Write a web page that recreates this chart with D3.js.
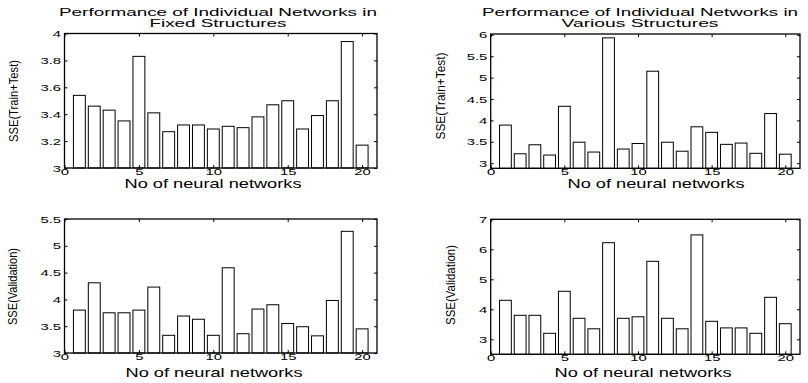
<!DOCTYPE html>
<html>
<head>
<meta charset="utf-8">
<script src="https://cdn.jsdelivr.net/npm/d3@7"></script>
<style>
body { margin: 0; background: #fff; }
text { font-family: "Liberation Sans", Arial, sans-serif; fill: #000; }
</style>
</head>
<body>
<script>
// network index on the x axis
var networks = [1, 2, 3, 4, 5, 6, 7, 8, 9, 10, 11, 12, 13, 14, 15, 16, 17, 18, 19, 20];

// SSE values
var trainTestFixed = [3.54, 3.46, 3.43, 3.35, 3.83, 3.41, 3.27, 3.32, 3.32, 3.29, 3.31, 3.30, 3.38, 3.47, 3.50, 3.29, 3.39, 3.50, 3.94, 3.17];
var trainTestVarious = [3.89, 3.22, 3.43, 3.19, 4.33, 3.49, 3.26, 5.93, 3.33, 3.46, 5.15, 3.49, 3.28, 3.85, 3.72, 3.44, 3.47, 3.23, 4.16, 3.21];
var validationFixed = [3.80, 4.31, 3.75, 3.75, 3.80, 4.23, 3.33, 3.69, 3.63, 3.33, 4.59, 3.36, 3.82, 3.90, 3.55, 3.49, 3.32, 3.98, 5.27, 3.45];
var validationVarious = [4.30, 3.80, 3.80, 3.20, 4.60, 3.70, 3.35, 6.22, 3.70, 3.75, 5.60, 3.70, 3.35, 6.48, 3.60, 3.38, 3.38, 3.20, 4.40, 3.52];

var xTicks = [0, 5, 10, 15, 20];
var yTicksTTFixed = [3, 3.2, 3.4, 3.6, 3.8, 4];
var yTicksTTVarious = [3, 3.5, 4, 4.5, 5, 5.5, 6];
var yTicksValFixed = [3, 3.5, 4, 4.5, 5, 5.5];
var yTicksValVarious = [3, 4, 5, 6, 7];

var titleFixed = ["Performance of Individual Networks in", "Fixed Structures"];
var titleVarious = ["Performance of Individual Networks in", "Various Structures"];
var xLabel = "No of neural networks";
var yLabelTT = "SSE(Train+Test)";
var yLabelVal = "SSE(Validation)";

var svg = d3.select("body").append("svg")
  .attr("width", 808)
  .attr("height", 383);

// layout of the four axes boxes (pixels)
var panels = [
  {values: trainTestFixed, yDomain: [3, 4], yTicks: yTicksTTFixed,
   left: 64.5, right: 377, top: 33.5, bottom: 168,
   title: titleFixed, titleX: 218, titleLen: [318, 137],
   yLabel: yLabelTT, yLabelX: 13.5, yLabelY: 101, yLabelLen: 82,
   xLabelX: 213, xLabelY: 188},
  {values: trainTestVarious, yDomain: [2.88, 6.02], yTicks: yTicksTTVarious,
   left: 490.7, right: 800, top: 34, bottom: 168.3,
   title: titleVarious, titleX: 640, titleLen: [316, 157],
   yLabel: yLabelTT, yLabelX: 441, yLabelY: 96, yLabelLen: 87,
   xLabelX: 656, xLabelY: 188},
  {values: validationFixed, yDomain: [3, 5.5], yTicks: yTicksValFixed,
   left: 64.5, right: 377, top: 219, bottom: 353,
   title: null,
   yLabel: yLabelVal, yLabelX: 13, yLabelY: 286.5, yLabelLen: 77,
   xLabelX: 214, xLabelY: 377},
  {values: validationVarious, yDomain: [2.5, 7], yTicks: yTicksValVarious,
   left: 490.7, right: 800, top: 219.3, bottom: 354.3,
   title: null,
   yLabel: yLabelVal, yLabelX: 451, yLabelY: 285, yLabelLen: 80,
   xLabelX: 643, xLabelY: 377}
];

panels.forEach(function(p) {
  var x = d3.scaleLinear().domain([0, 21]).range([p.left, p.right]);
  var y = d3.scaleLinear().domain(p.yDomain).range([p.bottom, p.top]);
  var g = svg.append("g");

  // bars, matlab style width 0.8
  g.selectAll("rect.bar")
    .data(p.values)
    .enter().append("rect")
    .attr("class", "bar")
    .attr("x", function(d, i) { return x(networks[i] - 0.4); })
    .attr("width", x(0.8) - x(0))
    .attr("y", function(d) { return y(d); })
    .attr("height", function(d) { return y(p.yDomain[0]) - y(d); })
    .attr("fill", "#fff")
    .attr("stroke", "#000")
    .attr("stroke-width", 1);

  // ticks pointing inwards on all four sides
  var bottomAxis = g.append("g")
    .attr("transform", "translate(0," + p.bottom + ")")
    .call(d3.axisBottom(x).tickValues(xTicks).tickSizeInner(-3).tickSizeOuter(0));
  var topAxis = g.append("g")
    .attr("transform", "translate(0," + p.top + ")")
    .call(d3.axisTop(x).tickValues(xTicks).tickSizeInner(-3).tickSizeOuter(0).tickFormat(""));
  var leftAxis = g.append("g")
    .attr("transform", "translate(" + p.left + ",0)")
    .call(d3.axisLeft(y).tickValues(p.yTicks).tickSizeInner(-3).tickSizeOuter(0)
      .tickFormat(function(d) { return String(d); }));
  var rightAxis = g.append("g")
    .attr("transform", "translate(" + p.right + ",0)")
    .call(d3.axisRight(y).tickValues(p.yTicks).tickSizeInner(-3).tickSizeOuter(0).tickFormat(""));

  [bottomAxis, topAxis, leftAxis, rightAxis].forEach(function(a) {
    a.select(".domain").remove();
    a.selectAll("line").attr("stroke", "#000");
    a.attr("font-family", null).attr("font-size", null);
  });

  // stretched tick labels
  bottomAxis.selectAll("text")
    .attr("font-size", 11)
    .attr("transform", "scale(1.35,0.78)")
    .attr("y", 1).attr("dy", "0.71em");
  leftAxis.selectAll("text")
    .attr("font-size", 11)
    .attr("transform", "scale(1.35,0.78)")
    .attr("x", -2.5).attr("dy", "0.35em");

  // axes box
  g.append("rect")
    .attr("x", p.left).attr("y", p.top)
    .attr("width", p.right - p.left).attr("height", p.bottom - p.top)
    .attr("fill", "none")
    .attr("stroke", "#000")
    .attr("stroke-width", 1.3);

  if (p.title) {
    p.title.forEach(function(line, i) {
      g.append("text")
        .attr("x", p.titleX)
        .attr("y", 16 + i * 11)
        .attr("text-anchor", "middle")
        .attr("font-size", 11)
        .attr("textLength", p.titleLen[i])
        .attr("lengthAdjust", "spacingAndGlyphs")
        .text(line);
    });
  }

  g.append("text")
    .attr("x", p.xLabelX)
    .attr("y", p.xLabelY)
    .attr("text-anchor", "middle")
    .attr("font-size", 13)
    .attr("textLength", 177)
    .attr("lengthAdjust", "spacingAndGlyphs")
    .text(xLabel);

  g.append("text")
    .attr("transform", "translate(" + p.yLabelX + "," + p.yLabelY + ") rotate(-90)")
    .attr("text-anchor", "middle")
    .attr("dy", "0.35em")
    .attr("font-size", 12)
    .attr("textLength", p.yLabelLen)
    .attr("lengthAdjust", "spacingAndGlyphs")
    .text(p.yLabel);
});
</script>
</body>
</html>
